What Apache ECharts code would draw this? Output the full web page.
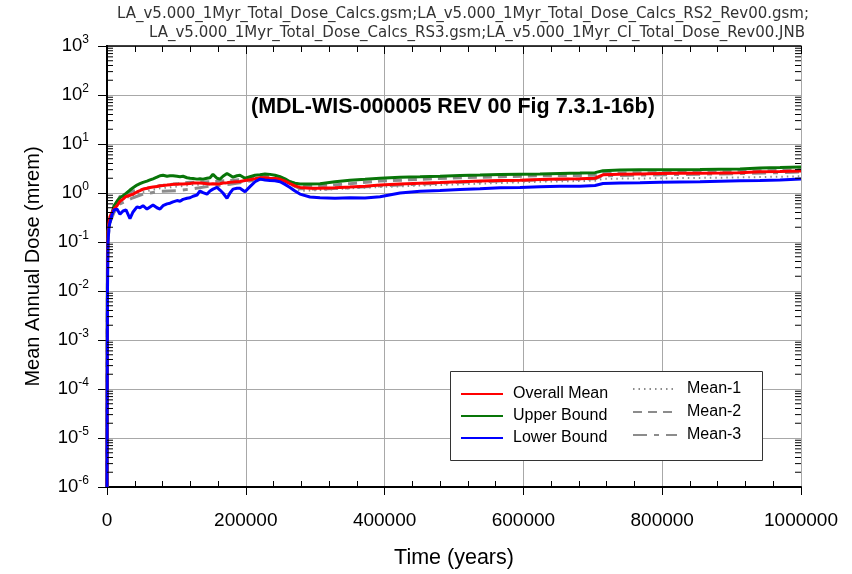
<!DOCTYPE html>
<html>
<head>
<meta charset="utf-8">
<script src="https://cdn.jsdelivr.net/npm/echarts@6/dist/echarts.min.js"></script>
<style>
html,body{margin:0;padding:0;background:#fff;}
#chart{width:852px;height:574px;}
</style>
</head>
<body>
<div id="chart"></div>
<script>
// ---- Data (years, mrem) ----
const yearsMain = [0,300,700,1400,2900,4300,7200,10100,14400,18700,23100,27400,33100,37500,43200,47500,51900,57600,62000,66300,72000,76400,80700,86500,90800,95100,100900,105200,109500,115300,119600,123900,129700,134000,138300,144100,148400,152700,158500,162800,167100,172900,177200,181600,187300,191600,198800,206000,213300,220500,227700,234900,242100,249300,256500,263700,270900,278100,292500,306900,328500,350100,371800,393400,422200,451000,479800,508600,537500,566300,595100,623900,652700,681500,703200,714700,739200,768000,796800,825600,854500,883300,912100,940900,969700,1000000];

const overallMean = [1e-6,1e-4,0.02,0.15,0.25,0.33,0.4,0.47,0.55,0.68,0.75,0.85,0.9,0.95,1.05,1.12,1.2,1.25,1.3,1.33,1.36,1.4,1.42,1.45,1.48,1.5,1.5,1.52,1.52,1.55,1.57,1.6,1.6,1.6,1.58,1.55,1.52,1.55,1.52,1.55,1.6,1.62,1.65,1.67,1.7,1.72,1.8,1.86,1.95,2.05,2.05,2.0,1.98,1.9,1.75,1.55,1.4,1.3,1.25,1.25,1.28,1.32,1.38,1.45,1.52,1.58,1.63,1.7,1.75,1.8,1.83,1.88,1.92,1.95,2.0,2.35,2.4,2.45,2.5,2.52,2.52,2.55,2.6,2.7,2.75,2.82];

const upperBound = [1e-6,1e-3,0.08,0.17,0.22,0.27,0.38,0.55,0.68,0.8,0.88,0.98,1.15,1.28,1.45,1.55,1.65,1.75,1.85,1.95,2.1,2.25,2.3,2.2,2.25,2.25,2.2,2.15,2.2,2.05,2.0,1.98,1.92,1.95,1.92,2.0,2.05,2.4,2.0,1.92,2.2,2.5,2.3,2.1,2.25,2.3,2.0,2.15,2.3,2.35,2.45,2.4,2.3,2.15,1.95,1.7,1.58,1.52,1.52,1.55,1.7,1.83,1.9,2.0,2.1,2.14,2.2,2.28,2.32,2.38,2.42,2.45,2.5,2.55,2.6,2.85,2.95,2.97,2.97,2.97,3.0,3.05,3.1,3.25,3.3,3.4];

const lowerBound = [1e-6,1e-4,0.01,0.1,0.2,0.25,0.36,0.45,0.47,0.37,0.43,0.45,0.3,0.41,0.52,0.5,0.55,0.47,0.52,0.57,0.5,0.47,0.55,0.6,0.62,0.66,0.7,0.68,0.74,0.78,0.8,0.86,0.91,1.1,1.02,0.95,1.1,1.2,1.3,1.15,1.0,0.78,1.0,1.2,1.25,1.25,1.06,1.35,1.7,1.92,1.85,1.8,1.78,1.7,1.5,1.3,1.1,0.95,0.83,0.8,0.78,0.8,0.79,0.84,1.0,1.08,1.12,1.18,1.22,1.28,1.3,1.34,1.38,1.38,1.42,1.56,1.6,1.62,1.65,1.68,1.7,1.74,1.78,1.8,1.84,1.92];

const yearsMeans = [0,700,1400,4300,10100,18700,37500,51900,76400,100900,119600,148400,177200,206000,227700,249300,263700,278100,306900,350100,393400,451000,508600,566300,623900,703200,714700,796800,883300,969700,1000000];

const mean1 = [1e-6,0.04,0.14,0.28,0.45,0.7,0.9,1.05,1.25,1.35,1.45,1.5,1.6,1.8,2.0,1.95,1.6,1.1,1.15,1.25,1.32,1.42,1.5,1.6,1.7,1.78,1.95,2.0,2.05,2.15,2.2];
const mean2 = [1e-6,0.06,0.15,0.3,0.5,0.85,1.1,1.2,1.4,1.55,1.65,1.7,1.8,1.95,2.2,2.1,1.7,1.4,1.4,1.55,1.75,1.9,2.05,2.15,2.25,2.3,2.55,2.6,2.7,2.9,3.0];
const mean3 = [1e-6,0.03,0.12,0.25,0.4,0.6,0.8,0.95,1.08,1.12,1.2,1.38,1.5,1.75,1.95,1.9,1.55,1.22,1.2,1.28,1.4,1.52,1.65,1.75,1.85,1.95,2.25,2.35,2.45,2.6,2.7];

const xTicks = [0,200000,400000,600000,800000,1000000];
const headerLine1 = 'LA_v5.000_1Myr_Total_Dose_Calcs.gsm;LA_v5.000_1Myr_Total_Dose_Calcs_RS2_Rev00.gsm;';
const headerLine2 = 'LA_v5.000_1Myr_Total_Dose_Calcs_RS3.gsm;LA_v5.000_1Myr_CI_Total_Dose_Rev00.JNB';
const figTitle = '(MDL-WIS-000005 REV 00 Fig 7.3.1-16b)';

// minor log tick values (2..9 x 10^n)
const minorLogTicks = [];
for (let e = -6; e < 3; e++) for (let k = 2; k <= 9; k++) minorLogTicks.push([0, k * Math.pow(10, e)]);

const FONT = '"Liberation Sans", Arial, sans-serif';
const HFONT = '"DejaVu Sans", sans-serif';
const pair = (xs, ys) => xs.map((x, i) => [x, ys[i]]);

const chart = echarts.init(document.getElementById('chart'), null, {renderer: 'canvas'});

function lineSeries(name, xs, ys, color, type, width) {
  return {
    name, type: 'line', data: pair(xs, ys), xAxisIndex: 0, yAxisIndex: 0,
    symbol: 'none', showSymbol: false, animation: false,
    lineStyle: {color, width, type}, itemStyle: {color}, z: 3
  };
}

const legendCommon = {
  orient: 'vertical', itemHeight: 14, padding: 0,
  itemStyle: {opacity: 0, borderWidth: 0},
  textStyle: {fontSize: 16, color: '#000', fontFamily: FONT, padding: [0, 0, 0, 5]}
};

const option = {
  animation: false,
  backgroundColor: '#fff',
  textStyle: {fontFamily: FONT},
  title: [
    {text: headerLine1, left: 112, top: 2, textStyle: {fontSize: 15, fontWeight: 'normal', color: '#333', fontFamily: HFONT}},
    {text: headerLine2, left: 144, top: 21, textStyle: {fontSize: 15, fontWeight: 'normal', color: '#333', fontFamily: HFONT}},
    {text: figTitle, left: 246, top: 91, textStyle: {fontSize: 21.5, fontWeight: 'bold', color: '#000', fontFamily: FONT}}
  ],
  grid: {left: 107, right: 51, top: 46, bottom: 84, containLabel: false},
  legend: [
    Object.assign({}, legendCommon, {data: ['Overall Mean', 'Upper Bound', 'Lower Bound'],
      left: 460, top: 386, itemWidth: 42, itemGap: 6}),
    Object.assign({}, legendCommon, {data: ['Mean-1', 'Mean-2', 'Mean-3'],
      left: 632, top: 381, itemWidth: 44, itemGap: 7})
  ],
  graphic: [
    {type: 'rect', left: 450, top: 371, z: 3, shape: {width: 312, height: 89},
     style: {fill: '#fff', stroke: '#333', lineWidth: 1}}
  ],
  xAxis: [
    {type: 'value', position: 'bottom', min: 0, max: 1000000, interval: 200000,
     axisLine: {show: true, lineStyle: {color: '#000', width: 2}},
     axisTick: {show: true, inside: false, length: 8, lineStyle: {color: '#000', width: 1}},
     axisLabel: {fontSize: 19, color: '#000', margin: 24, fontFamily: FONT,
       formatter: v => (xTicks.indexOf(v) >= 0 ? String(v) : '')},
     splitLine: {show: true, lineStyle: {color: '#a8a8a8', width: 1}},
     name: 'Time (years)', nameLocation: 'middle', nameGap: 60,
     nameTextStyle: {fontSize: 21.5, color: '#000', fontFamily: FONT}},
    {type: 'value', position: 'bottom', min: 0, max: 1000000, interval: 200000,
     axisLine: {show: false}, axisTick: {show: false, inside: true},
     minorTick: {show: true, splitNumber: 5, length: 6, lineStyle: {color: '#000', width: 1}},
     axisLabel: {show: false}, splitLine: {show: false}},
    {type: 'value', position: 'top', min: 0, max: 1000000, interval: 200000,
     axisLine: {show: true, lineStyle: {color: '#000', width: 1.5}},
     axisTick: {show: true, inside: true, length: 8, lineStyle: {color: '#000'}},
     minorTick: {show: true, splitNumber: 5, length: 6, lineStyle: {color: '#000', width: 1}},
     axisLabel: {show: false}, splitLine: {show: false}}
  ],
  yAxis: [
    {type: 'log', logBase: 10, position: 'left', min: 1e-6, max: 1e3, splitNumber: 9,
     axisLine: {show: true, lineStyle: {color: '#000', width: 2}},
     axisTick: {show: true, inside: false, length: 9, lineStyle: {color: '#000'}},
     axisLabel: {color: '#000', margin: 18, fontFamily: FONT,
       formatter: v => '{b|10}{s|' + Math.round(Math.log10(v)) + '}',
       rich: {b: {fontSize: 18.5, lineHeight: 24, fontFamily: FONT, color: '#000'},
              s: {fontSize: 12, lineHeight: 12, verticalAlign: 'top', fontFamily: FONT, color: '#000'}}},
     splitLine: {show: true, lineStyle: {color: '#a8a8a8', width: 1}},
     name: 'Mean Annual Dose (mrem)', nameLocation: 'middle', nameGap: 64,
     nameTextStyle: {fontSize: 20, color: '#000', fontFamily: FONT}},
    {type: 'log', logBase: 10, position: 'right', min: 1e-6, max: 1e3, splitNumber: 9,
     axisLine: {show: true, lineStyle: {color: '#000', width: 2}},
     axisTick: {show: false}, axisLabel: {show: false}, splitLine: {show: false}}
  ],
  series: [
    lineSeries('Mean-1', yearsMeans, mean1, '#8c8c8c', [1.5, 4], 2),
    lineSeries('Mean-2', yearsMeans, mean2, '#8c8c8c', [9, 6], 3),
    lineSeries('Mean-3', yearsMeans, mean3, '#8c8c8c', [14, 7, 5, 7], 3),
    lineSeries('Upper Bound', yearsMain, upperBound, '#087508', 'solid', 3),
    lineSeries('Overall Mean', yearsMain, overallMean, '#ff0000', 'solid', 3),
    lineSeries('Lower Bound', yearsMain, lowerBound, '#0000ff', 'solid', 3),
    {type: 'custom', name: 'minorTicks', xAxisIndex: 0, yAxisIndex: 0, silent: true, z: 5,
     data: minorLogTicks, encode: {x: 0, y: 1},
     renderItem: (params, api) => {
       const v = api.value(1);
       const pl = api.coord([0, v]);
       const pr = api.coord([1000000, v]);
       return {type: 'group', children: [
         {type: 'line', shape: {x1: pl[0], y1: pl[1], x2: pl[0] + 6, y2: pl[1]}, style: {stroke: '#000', lineWidth: 1}},
         {type: 'line', shape: {x1: pr[0] - 6, y1: pr[1], x2: pr[0], y2: pr[1]}, style: {stroke: '#000', lineWidth: 1}}
       ]};
     }}
  ]
};
chart.setOption(option);
</script>
</body>
</html>
